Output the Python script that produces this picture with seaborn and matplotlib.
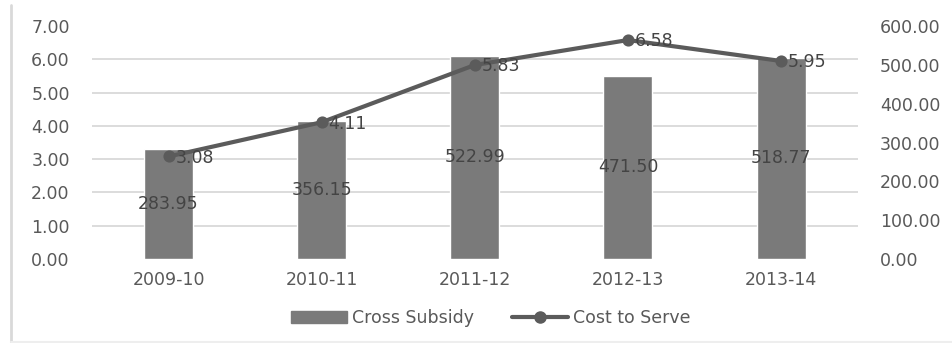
import numpy as np
import matplotlib
matplotlib.use("Agg")
import matplotlib.pyplot as plt
from matplotlib.lines import Line2D
from matplotlib.patches import Patch
import seaborn as sns

# datos del grafico
years = ["2009-10", "2010-11", "2011-12", "2012-13", "2013-14"]
cross_subsidy = [283.95, 356.15, 522.99, 471.50, 518.77]
cost_to_serve = [3.08, 4.11, 5.83, 6.58, 5.95]
left_ticks = [0, 1, 2, 3, 4, 5, 6, 7]
right_ticks = [0, 100, 200, 300, 400, 500, 600]

sns.set_style("white")
plt.rcParams["font.family"] = ["DejaVu Sans"]

bar_col = "#7a7a7a"
line_col = "#5b5b5b"
txt_col = "#595959"
grid_col = "#d9d9d9"
fs = 12.5

fig = plt.figure(figsize=(9.53, 3.43), dpi=100)
ax = fig.add_axes([0.0965, 0.245, 0.8035, 0.679])

# barras en el eje de la derecha (0-600)
sns.barplot(x=years, y=cross_subsidy, ax=ax, color=bar_col, width=0.32,
            saturation=1, zorder=2)
ax.bar_label(ax.containers[0], labels=[f"{v:.2f}" for v in cross_subsidy],
             label_type="center", fontsize=fs, color="#444444")

# linea en el eje de la izquierda (0-7)
ax2 = ax.twinx()
sns.pointplot(x=years, y=cost_to_serve, ax=ax2, color=line_col,
              markers="o", markersize=6.5, linewidth=3)
for i, v in enumerate(cost_to_serve):
    ax2.annotate(f"{v:.2f}", (i, v), xytext=(5, -1), textcoords="offset points",
                 ha="left", va="center", fontsize=fs, color="#444444")

# ejes: barras a la derecha, linea a la izquierda
ax.set_ylim(0, 600)
ax.set_yticks(right_ticks)
ax.set_yticklabels([f"{v:.2f}" for v in right_ticks])
ax.yaxis.set_ticks_position("right")
ax.yaxis.set_label_position("right")
# lineas de la grilla segun el eje izquierdo
ax.set_yticks(np.linspace(0, 600, len(left_ticks)), minor=True)
ax.grid(which="minor", axis="y", color=grid_col, lw=1.3, zorder=0)
ax.set_axisbelow(True)

ax2.set_ylim(0, 7)
ax2.set_yticks(left_ticks)
ax2.set_yticklabels([f"{v:.2f}" for v in left_ticks])
ax2.yaxis.set_ticks_position("left")
ax2.yaxis.set_label_position("left")

for a in (ax, ax2):
    for s in a.spines.values():
        s.set_visible(False)
    a.tick_params(axis="both", which="both", length=0, labelsize=fs,
                  labelcolor=txt_col)
    a.set_xlabel("")
    a.set_ylabel("")
ax.tick_params(axis="y", pad=16)
ax2.tick_params(axis="y", pad=16)
ax.tick_params(axis="x", pad=9)
ax.set_xlim(-0.5, 4.5)

handles = [Patch(color=bar_col),
           Line2D([], [], color=line_col, lw=3, marker="o", markersize=8)]
fig.legend(handles, ["Cross Subsidy", "Cost to Serve"], loc="center",
           bbox_to_anchor=(0.515, 0.072), ncol=2, frameon=False, fontsize=fs,
           labelcolor=txt_col, handlelength=3.2, handletextpad=0.3,
           columnspacing=2.2)

# borde de la imagen
fig.add_artist(Line2D([0.012, 0.012], [0, 0.985], color=grid_col, lw=2))
fig.add_artist(Line2D([0.012, 1], [0.003, 0.003], color="#eeeeee", lw=1.5))

fig.savefig("out.png", dpi=100)
